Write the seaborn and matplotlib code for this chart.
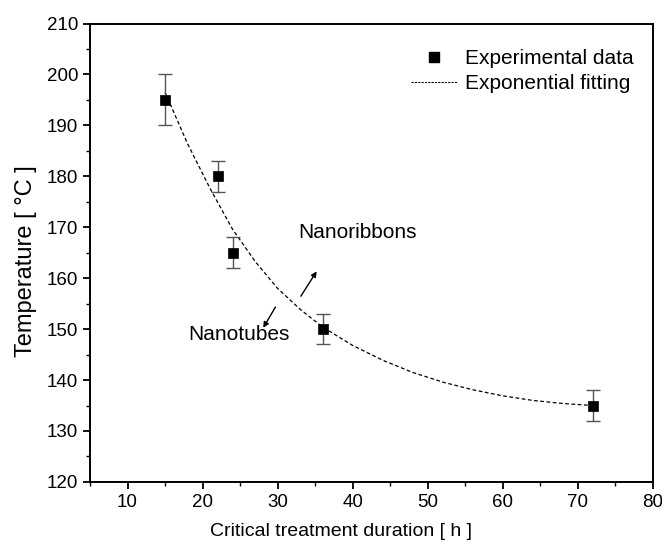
import numpy as np
import pandas as pd
import matplotlib
matplotlib.use("Agg")
import matplotlib.pyplot as plt
from matplotlib.ticker import MultipleLocator
from matplotlib.lines import Line2D
import seaborn as sns

# Datos experimentales
duracion = [15, 22, 24, 36, 72]
temperatura = [195, 180, 165, 150, 135]
error = [5, 3, 3, 3, 3]

# Curva de ajuste exponencial
ajuste_x = [15, 18, 21, 24, 27, 30, 33, 36, 40, 44, 48, 52, 56, 60, 64, 68, 72]
ajuste_y = [196.5, 186.4, 177.6, 169.6, 163.3, 158.0, 153.9, 150.4, 146.8,
            143.9, 141.5, 139.6, 138.1, 136.9, 136.0, 135.4, 135.0]

sns.set_style("ticks")
plt.rcParams["font.family"] = ["Liberation Sans", "DejaVu Sans"]
plt.rcParams["text.color"] = "black"
plt.rcParams["axes.labelcolor"] = "black"

df = pd.DataFrame({"x": duracion, "y": temperatura})
df_fit = pd.DataFrame({"x": ajuste_x, "y": ajuste_y})

fig = plt.figure(figsize=(6.62, 5.47), dpi=100)
ax = fig.add_axes([0.136, 0.119, 0.85, 0.838])

# Curva de ajuste
sns.lineplot(data=df_fit, x="x", y="y", ax=ax, color="black",
             linestyle=(0, (3, 2)), linewidth=0.9, legend=False)

# Barras de error
ax.errorbar(duracion, temperatura, yerr=error, fmt="none", ecolor="#555555",
            elinewidth=1.0, capsize=5, capthick=1.0, zorder=3)

# Puntos experimentales
sns.scatterplot(data=df, x="x", y="y", ax=ax, marker="s", s=45,
                color="black", edgecolor="black", linewidth=0.5,
                zorder=4, legend=False)

# Flechas y etiquetas
ax.annotate("", xy=(35.4, 161.8), xytext=(32.9, 156.0),
            arrowprops=dict(arrowstyle="-|>", color="black", lw=1.0,
                            mutation_scale=8))
ax.annotate("", xy=(27.9, 149.8), xytext=(29.9, 154.8),
            arrowprops=dict(arrowstyle="-|>", color="black", lw=1.0,
                            mutation_scale=8))
ax.text(32.7, 169.0, "Nanoribbons", fontsize=15, va="center", ha="left")
ax.text(18.1, 148.9, "Nanotubes", fontsize=15, va="center", ha="left")

# Ejes
ax.set_xlim(5, 80)
ax.set_ylim(120, 210)
ax.xaxis.set_minor_locator(MultipleLocator(5))
ax.yaxis.set_major_locator(MultipleLocator(10))
ax.yaxis.set_minor_locator(MultipleLocator(5))
ax.set_xticks([10, 20, 30, 40, 50, 60, 70, 80])
ax.tick_params(which="major", direction="out", length=5, width=1.3,
               labelsize=13.5, colors="black", top=False, right=False)
ax.tick_params(which="minor", direction="out", length=3, width=1.0,
               colors="black", top=False, right=False)
for s in ax.spines.values():
    s.set_linewidth(1.4)
    s.set_color("black")
    s.set_visible(True)

ax.set_xlabel("Critical treatment duration [ h ]", fontsize=14)
ax.set_ylabel("Temperature [ °C ]", fontsize=17)
ax.xaxis.set_label_coords(0.446, -0.09)
ax.yaxis.set_label_coords(-0.095, 0.481)

# Leyenda
handles = [
    Line2D([], [], marker="s", color="black", linestyle="none", markersize=7),
    Line2D([], [], color="black", linestyle=(0, (2, 1)), linewidth=0.8),
]
ax.legend(handles, ["Experimental data", "Exponential fitting"],
          loc="upper right", bbox_to_anchor=(1.0, 0.985), frameon=False,
          fontsize=15, handlelength=2.2, handletextpad=0.4,
          labelspacing=0.3)

plt.savefig("out.png", dpi=100)
